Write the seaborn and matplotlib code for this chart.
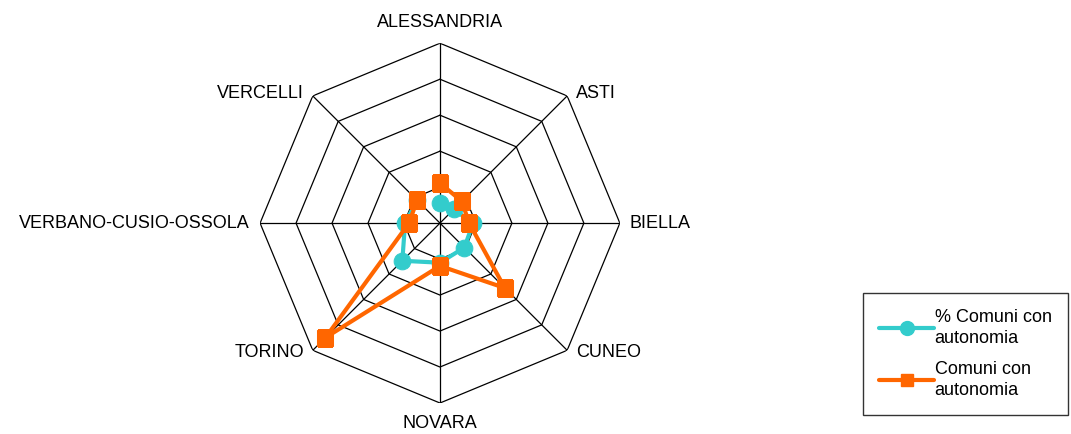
import numpy as np
import matplotlib
matplotlib.use("Agg")
import matplotlib.pyplot as plt
from matplotlib.lines import Line2D
import seaborn as sns

# province, clockwise from the top
province = ["ALESSANDRIA", "ASTI", "BIELLA", "CUNEO", "NOVARA", "TORINO",
            "VERBANO-CUSIO-OSSOLA", "VERCELLI"]
perc_comuni = [5.7, 5.4, 9.2, 9.6, 11.0, 14.8, 9.7, 9.0]
comuni = [11.1, 8.6, 8.1, 25.5, 11.9, 45.0, 8.6, 9.0]
ring_values = [10, 20, 30, 40, 50]

CYAN = "#33CCCC"
ORANGE = "#FF6600"


def main():
    sns.set_style("white")
    plt.rcParams["font.family"] = ["Liberation Sans", "DejaVu Sans"]
    plt.rcParams["text.color"] = "black"

    fig = plt.figure(figsize=(10.71, 4.34), dpi=100)
    ax = fig.add_axes([0.2428, 0.0714, 0.336, 0.829], projection="polar")
    ax.set_theta_zero_location("N")
    ax.set_theta_direction(-1)

    n = len(province)
    angles = list(np.linspace(0, 2 * np.pi, n, endpoint=False))
    closed = angles + [angles[0]]
    rmax = ring_values[-1]

    # octagon grid
    for r in ring_values:
        ax.plot(closed, [r] * (n + 1), color="black", lw=0.9, zorder=1)
    for a in angles:
        ax.plot([a, a], [0, rmax], color="black", lw=0.9, zorder=1)

    sns.lineplot(x=closed, y=perc_comuni + [perc_comuni[0]], sort=False, ax=ax,
                 color=CYAN, lw=3, marker="o", markersize=12,
                 markeredgecolor=CYAN, zorder=3)
    sns.lineplot(x=closed, y=comuni + [comuni[0]], sort=False, ax=ax,
                 color=ORANGE, lw=3, marker="s", markersize=11,
                 markeredgecolor=ORANGE, zorder=4)

    ax.set_ylim(0, rmax)
    ax.set_xticks([])
    ax.set_yticks([])
    ax.grid(False)
    ax.spines["polar"].set_visible(False)
    ax.set_facecolor("none")

    # category labels outside the vertices
    for a, name in zip(angles, province):
        s, c = np.sin(a), np.cos(a)
        ha = "center" if abs(s) < 0.1 else ("left" if s > 0 else "right")
        va = "center" if abs(c) < 0.1 else ("bottom" if c > 0 else "top")
        dx = 10 * np.sign(s) if abs(s) > 0.1 else 0
        dy = 12 * np.sign(c) if abs(c) > 0.1 else 0
        if abs(s) > 0.1 and abs(c) > 0.1:
            dx, dy = 9 * np.sign(s), 2 * np.sign(c)
            va = "center"
        ax.annotate(name, xy=(a, rmax), xytext=(dx, dy),
                    textcoords="offset pixels", ha=ha, va=va,
                    fontsize=13, color="black", annotation_clip=False)

    handles = [
        Line2D([], [], color=CYAN, lw=3, marker="o", markersize=10),
        Line2D([], [], color=ORANGE, lw=3, marker="s", markersize=9),
    ]
    leg = fig.legend(handles, ["% Comuni con\nautonomia", "Comuni con\nautonomia"],
                     loc="lower right", bbox_to_anchor=(0.997, 0.044),
                     fontsize=13, frameon=True, fancybox=False,
                     handlelength=3.0, handletextpad=0.05, borderpad=0.9,
                     labelspacing=0.75, borderaxespad=0)
    leg.get_frame().set_edgecolor("black")
    leg.get_frame().set_linewidth(1.0)
    for t in leg.get_texts():
        t.set_color("black")
        t.set_linespacing(1.3)

    fig.savefig("out.png", dpi=100)


if __name__ == "__main__":
    main()
